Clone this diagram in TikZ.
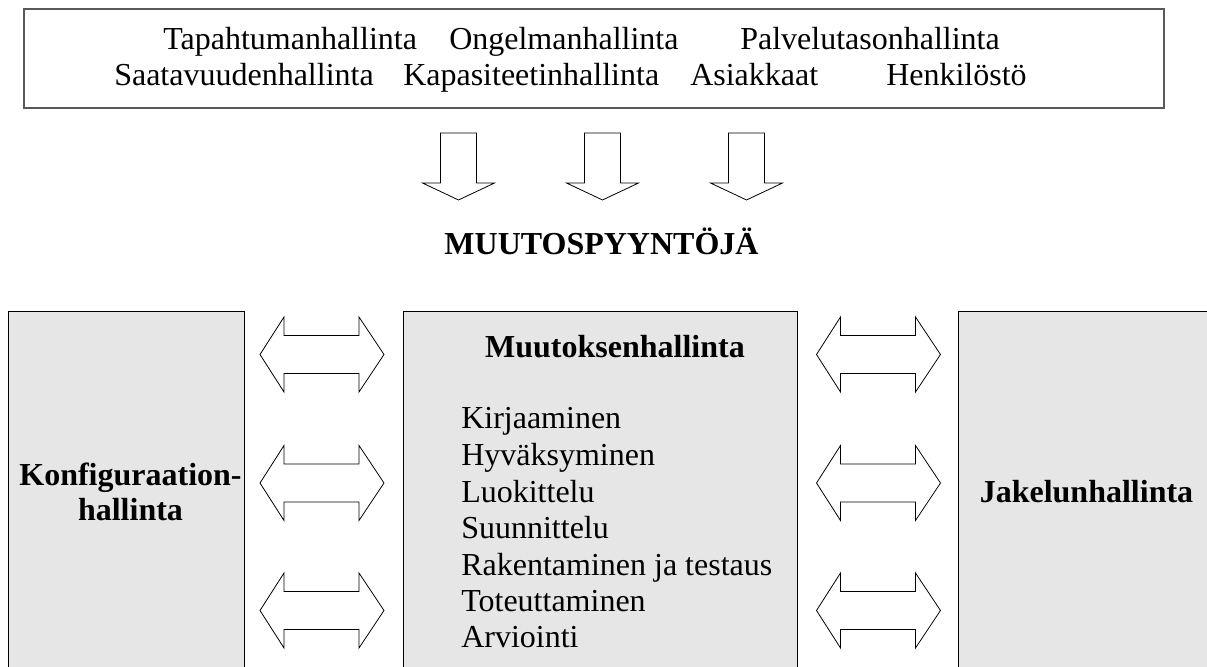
\documentclass[tikz,border=0pt]{standalone}
\usepackage{fontspec}
\setmainfont{Liberation Serif}
\begin{document}
\begin{tikzpicture}[x=0.75pt,y=-0.75pt,
  txt/.style={inner sep=0pt,anchor=base west,font=\fontsize{24}{27}\selectfont},
  ctxt/.style={inner sep=0pt,anchor=base,font=\fontsize{24}{27}\selectfont\bfseries},
  panel/.style={draw=black,line width=0.6pt,fill=boxgray},
  blockarrow/.style={draw=black,line width=0.6pt,fill=white,line join=miter},
  downarrow/.pic={\path[blockarrow] (-18,0) -- (18,0) -- (18,50) -- (36,50) -- (0,67) -- (-36,50) -- (-18,50) -- cycle;},
  dblarrow/.pic={\path[blockarrow] (-62,0) -- (-38,-37.5) -- (-38,-19) -- (37,-19) -- (37,-37.5) -- (62,0)
     -- (37,37.5) -- (37,19) -- (-38,19) -- (-38,37.5) -- cycle;}]
\definecolor{boxgray}{HTML}{E6E6E6}
\useasboundingbox (0,0) rectangle (1207,667);
\clip (0,0) rectangle (1207,667);

% source processes
\draw[draw=black!65,line width=0.9pt] (24,9) rectangle (1164,108);
\node[txt] (tap) at (163,50) {Tapahtumanhallinta};
\node[txt] (ong) at (449,50) {Ongelmanhallinta};
\node[txt] (pal) at (740,50) {Palvelutasonhallinta};
\node[txt] (saa) at (114,86) {Saatavuudenhallinta};
\node[txt] (kap) at (403,86) {Kapasiteetinhallinta};
\node[txt] (asi) at (690,86) {Asiakkaat};
\node[txt] (hen) at (886,86) {Henkilöstö};

% requests flowing down
\pic at (458.5,133) {downarrow};
\pic at (602.5,133) {downarrow};
\pic at (746.5,133) {downarrow};
\node[ctxt] (req) at (601.5,254) {MUUTOSPYYNTÖJÄ};

% lower panels
\draw[panel] (8,311) rectangle (244,690);
\draw[panel] (403,311) rectangle (797,690);
\draw[panel] (958,311) rectangle (1230,690);

\node[ctxt] (konf1) at (130.5,485) {Konfiguraation-};
\node[ctxt] (konf2) at (130.5,520) {hallinta};
\node[ctxt] (muut) at (615,357) {Muutoksenhallinta};
\node[ctxt] (jak) at (1086.5,502) {Jakelunhallinta};

\foreach \t/\yy [count=\i] in {Kirjaaminen/428,Hyväksyminen/465,Luokittelu/502,Suunnittelu/538,
  Rakentaminen ja testaus/575,Toteuttaminen/611,Arviointi/647}
  \node[txt] (item\i) at (461,\yy) {\t};

% two-way links between panels
\foreach \cy in {354.5,483,610.5}{
  \pic at (322,\cy) {dblarrow};
  \pic at (878.5,\cy) {dblarrow};
}
\end{tikzpicture}
\end{document}
